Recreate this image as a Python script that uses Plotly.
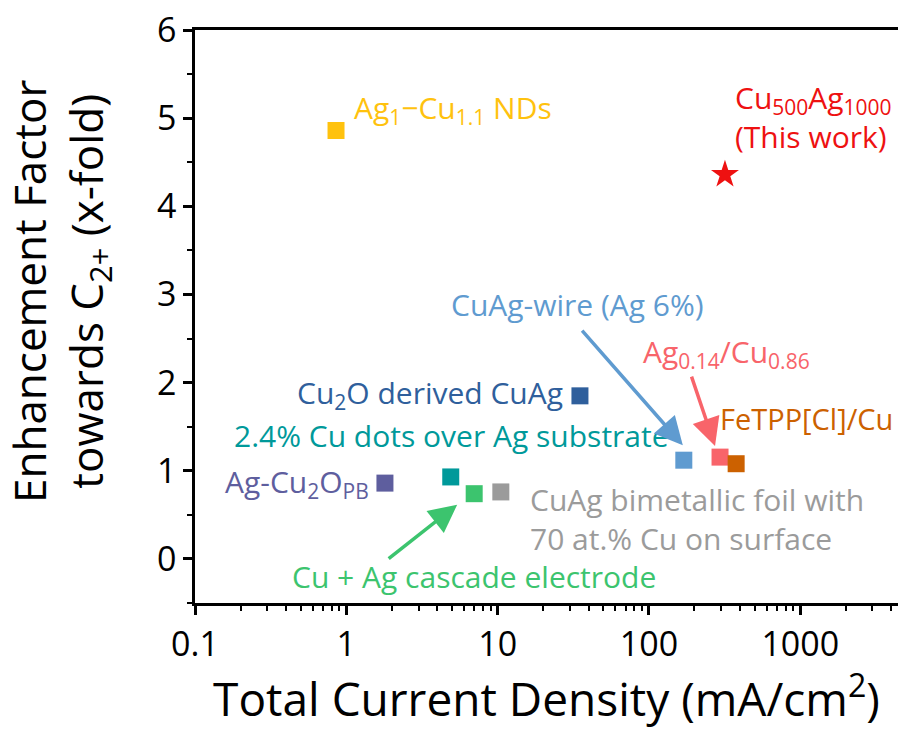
import plotly.graph_objects as go
import math

names = ["Ag1-Cu1.1 NDs", "Cu500Ag1000", "Cu2O derived CuAg", "2.4% Cu dots", "Ag-Cu2O_PB",
         "Cu + Ag cascade", "CuAg bimetallic foil", "CuAg-wire", "Ag0.14/Cu0.86", "FeTPP[Cl]/Cu"]
current = [0.855, 318, 35, 4.9, 1.8, 7.0, 10.5, 170, 295, 377]
factor = [4.86, 4.36, 1.85, 0.93, 0.86, 0.74, 0.76, 1.12, 1.155, 1.08]
colors = ["#FFC20E", "#EE1111", "#2F5F9C", "#00999A", "#5E5E9E", "#3CC46E", "#9B9B9B",
          "#5F9BD0", "#F8646A", "#CC6100"]
symbols = ["square", "star", "square", "square", "square", "square", "square", "square", "square", "square"]

FONT = "'Open Sans', 'Noto Sans', sans-serif"

fig = go.Figure()
for i in range(len(names)):
    fig.add_trace(go.Scatter(
        x=[current[i]], y=[factor[i]], mode="markers", name=names[i],
        marker=dict(symbol=symbols[i], color=colors[i], size=17 if symbols[i] == "square" else 21,
                    line=dict(width=0)),
        showlegend=False))

# label texts, anchored to points (index, text, xshift, yshift, xanchor, size)
labels = [
    (0, "Ag<sub>1</sub>−Cu<sub>1.1</sub> NDs", 16, 22, "left", 30),
    (1, "Cu<sub>500</sub>Ag<sub>1000</sub><br>(This work)", 8, 58, "left", 30),
    (2, "Cu<sub>2</sub>O derived CuAg", -15, 2, "right", 30),
    (3, "2.4% Cu dots over Ag substrate", 1, 41, "center", 30),
    (4, "Ag-Cu<sub>2</sub>O<sub>PB</sub>", -14, 0, "right", 30),
    (5, "Cu + Ag cascade electrode", 0, -83, "center", 30),
    (6, "CuAg bimetallic foil with<br>70 at.% Cu on surface", 27, -27, "left", 30),
    (7, "CuAg-wire (Ag 6%)", -106, 156, "center", 30),
    (8, "Ag<sub>0.14</sub>/Cu<sub>0.86</sub>", 6, 104, "center", 30),
    (9, "FeTPP[Cl]/Cu", -18, 45, "left", 29),
]
for idx, txt, xs, ys, xa, sz in labels:
    fig.add_annotation(x=math.log10(current[idx]), y=factor[idx], text=txt, showarrow=False,
                       xshift=xs, yshift=ys, xanchor=xa, yanchor="middle", align="left",
                       font=dict(family=FONT, size=sz, color=colors[idx]))

# arrows (index, tip offset x, tip offset y, tail ax, tail ay) in pixels
arrows = [
    (7, -1, 15, -102, -116),
    (8, -5, 11, -24, -71),
    (5, -17, -11, -70, 55),
]
for idx, dx, dy, ax, ay in arrows:
    fig.add_annotation(x=math.log10(current[idx]), y=factor[idx], xshift=dx, yshift=dy, text="",
                       showarrow=True, arrowhead=2, arrowsize=1.6, arrowwidth=3.5,
                       arrowcolor=colors[idx], ax=ax, ay=ay, standoff=0)

# y axis title (two lines)
fig.add_annotation(xref="paper", yref="paper", x=-0.193, y=0.545, textangle=-90,
                   text="Enhancement Factor<br>towards C<sub>2+</sub> (x-fold)", showarrow=False,
                   xanchor="center", yanchor="middle",
                   font=dict(size=44, family=FONT, color="black"))

fig.update_layout(
    width=898, height=729,
    margin=dict(l=195, r=0, t=30, b=126),
    plot_bgcolor="white", paper_bgcolor="white",
    font=dict(family=FONT, color="black"),
    xaxis=dict(type="log", range=[-1, 3.646], showgrid=False, zeroline=False,
               showline=True, linewidth=2.5, linecolor="black", mirror=True,
               ticks="outside", ticklen=9, tickwidth=2.5, tickcolor="black",
               tickvals=[0.1, 1, 10, 100, 1000], ticktext=["0.1", "1", "10", "100", "1000"],
               tickfont=dict(size=34, family=FONT),
               minor=dict(ticks="outside", ticklen=5, tickwidth=2, tickcolor="black",
                          tickvals=[m * 10 ** e for e in range(-1, 4) for m in range(2, 10)]),
               title=dict(text="Total Current Density (mA/cm<sup>2</sup>)",
                          font=dict(size=46, family=FONT), standoff=10)),
    yaxis=dict(range=[-0.5, 6], showgrid=False, zeroline=False,
               showline=True, linewidth=2.5, linecolor="black",
               ticks="outside", ticklen=9, tickwidth=2.5, tickcolor="black",
               tickvals=[0, 1, 2, 3, 4, 5, 6], tickfont=dict(size=34, family=FONT),
               minor=dict(ticks="outside", ticklen=5, tickwidth=2, tickcolor="black",
                          tickvals=[-0.5, 0.5, 1.5, 2.5, 3.5, 4.5, 5.5])),
)

fig.write_html("out.html")
